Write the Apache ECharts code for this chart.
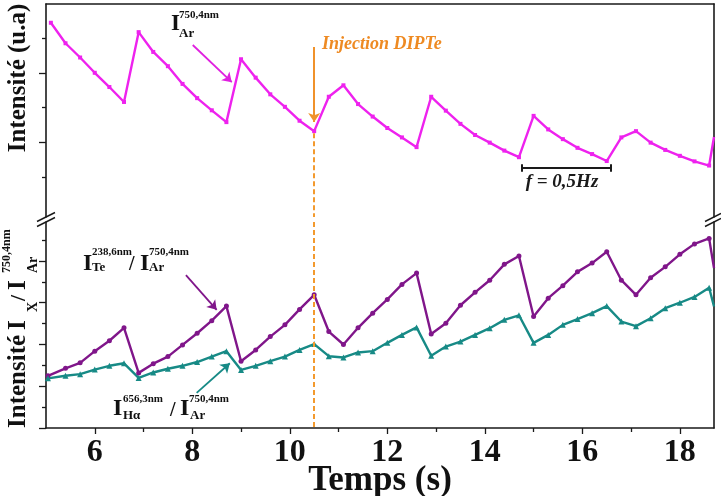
<!DOCTYPE html>
<html>
<head>
<meta charset="utf-8">
<script src="https://cdn.jsdelivr.net/npm/echarts@6/dist/echarts.min.js"></script>
<style>html,body{margin:0;padding:0;background:#fff;}#c{width:721px;height:496px;}</style>
</head>
<body>
<div id="c"></div>
<script>
// ---- data ----
const timeTop = [5.1,5.4,5.7,6.0,6.3,6.6,6.9,7.2,7.5,7.8,8.1,8.4,8.7,9.0,9.3,9.6,9.9,10.2,10.5,10.8,11.1,11.4,11.7,12.0,12.3,12.6,12.9,13.2,13.5,13.8,14.1,14.4,14.7,15.0,15.3,15.6,15.9,16.2,16.5,16.8,17.1,17.4,17.7,18.0,18.3,18.6,18.7];
const intensityAr = [5.44,4.85,4.44,4.00,3.59,3.16,5.17,4.60,4.19,3.68,3.27,2.92,2.58,4.39,3.86,3.38,3.02,2.62,2.32,3.31,3.64,3.10,2.74,2.41,2.14,1.86,3.31,2.91,2.53,2.21,1.99,1.76,1.57,2.76,2.37,2.09,1.84,1.66,1.46,2.14,2.32,1.99,1.78,1.61,1.45,1.33,2.15];
const timeRatio = [5.04,5.4,5.7,6.0,6.3,6.6,6.9,7.2,7.5,7.8,8.1,8.4,8.7,9.0,9.3,9.6,9.9,10.2,10.5,10.8,11.1,11.4,11.7,12.0,12.3,12.6,12.9,13.2,13.5,13.8,14.1,14.4,14.7,15.0,15.3,15.6,15.9,16.2,16.5,16.8,17.1,17.4,17.7,18.0,18.3,18.6,18.7];
const ratioTe = [1.25,1.43,1.56,1.84,2.09,2.40,1.32,1.54,1.71,1.99,2.27,2.57,2.92,1.60,1.87,2.19,2.47,2.84,3.19,2.31,2.00,2.40,2.75,3.08,3.44,3.71,2.25,2.51,2.94,3.25,3.54,3.92,4.12,2.67,3.11,3.41,3.74,3.95,4.22,3.54,3.19,3.60,3.86,4.16,4.41,4.54,3.83];
const ratioH = [1.19,1.25,1.29,1.40,1.49,1.55,1.20,1.33,1.42,1.49,1.58,1.71,1.84,1.39,1.49,1.60,1.71,1.87,2.01,1.72,1.69,1.81,1.84,2.04,2.23,2.41,1.73,1.95,2.07,2.23,2.39,2.59,2.70,2.04,2.23,2.47,2.61,2.75,2.92,2.55,2.44,2.63,2.87,3.00,3.14,3.36,2.91];
const xTickLabels = [6,8,10,12,14,16,18];
const xMinorTicks = [7,9,11,13,15,17];
const topMajorTicks = [2,4];
const topMinorTicks = [1,3,5];
const bottomMajorTicks = [0,1,2,3,4];
const bottomMinorTicks = [0.5,1.5,2.5,3.5,4.5];
const injectionTime = 10.5;
const freqStart = 14.75, freqEnd = 16.58, freqLevel = 1.26;

// ---- helpers ----
const AX = '#1a1a1a';
const SERIF = '"Liberation Serif", "Times New Roman", serif';
function pts(xs, ys) {
  return xs.map((x, i) => i === xs.length - 1 ? {value: [x, ys[i]], symbol: 'none'} : [x, ys[i]]);
}
function yAx(grid, min, max, pos, ticks, len, line) {
  return {
    type: 'value', gridIndex: grid, min: min, max: max, position: pos,
    axisLine: {show: line, onZero: false, lineStyle: {color: AX, width: 1.6}},
    axisTick: {show: ticks.length > 0, customValues: ticks, length: len, inside: false, lineStyle: {color: AX, width: 1.3}},
    axisLabel: {show: false}, splitLine: {show: false}
  };
}
function txt(x, y, s, font, fill, align) {
  return {type: 'text', x: x, y: y, silent: true,
    style: {text: s, font: font, fill: fill || '#111', textAlign: align || 'left', textVerticalAlign: 'middle'}};
}
function seg(a, b, color, width, endSym, dash) {
  return [
    {coord: a, symbol: 'none', lineStyle: {color: color, width: width, type: dash || 'solid'}},
    {coord: b, symbol: endSym || 'none'}
  ];
}
const B = (n) => 'bold ' + n + 'px ' + SERIF;
const topMin = -0.151, topMax = 5.98, botMin = 0, botMax = 4.934;

const chart = echarts.init(document.getElementById('c'), null, {renderer: 'canvas'});
chart.setOption({
  animation: false,
  backgroundColor: '#fff',
  grid: [
    {left: 46, right: 7, top: 4, height: 213, containLabel: false, outerBoundsMode: 'none'},
    {left: 46, right: 7, top: 222, bottom: 68, containLabel: false, outerBoundsMode: 'none'}
  ],
  xAxis: [
    {type: 'value', gridIndex: 0, min: 5, max: 18.7, position: 'top',
     axisLine: {show: true, onZero: false, lineStyle: {color: AX, width: 1.6}}, axisTick: {show: false}, axisLabel: {show: false}, splitLine: {show: false}},
    {type: 'value', gridIndex: 1, min: 5, max: 18.7, position: 'bottom',
     axisLine: {show: true, onZero: false, lineStyle: {color: AX, width: 1.6}},
     axisTick: {show: true, customValues: xTickLabels, length: 6, inside: false, lineStyle: {color: AX, width: 1.3}},
     axisLabel: {show: true, customValues: xTickLabels, margin: 9, fontSize: 32, fontWeight: 'bold', fontFamily: SERIF, color: '#111'},
     splitLine: {show: false}},
    {type: 'value', gridIndex: 1, min: 5, max: 18.7, position: 'bottom',
     axisLine: {show: false, onZero: false}, axisTick: {show: true, customValues: xMinorTicks, length: 4, inside: false, lineStyle: {color: AX, width: 1.3}},
     axisLabel: {show: false}, splitLine: {show: false}}
  ],
  yAxis: [
    yAx(0, topMin, topMax, 'left', topMajorTicks, 7, true),
    yAx(0, topMin, topMax, 'left', topMinorTicks, 4, false),
    yAx(0, topMin, topMax, 'right', [], 0, true),
    yAx(1, botMin, botMax, 'left', bottomMajorTicks, 7, true),
    yAx(1, botMin, botMax, 'left', bottomMinorTicks, 4, false),
    yAx(1, botMin, botMax, 'right', [], 0, true)
  ],
  series: [
    {type: 'line', xAxisIndex: 0, yAxisIndex: 0, data: pts(timeTop, intensityAr),
     symbol: 'rect', symbolSize: 4, color: '#ee22ee', lineStyle: {width: 2.4, color: '#ee22ee'}, silent: true, clip: true,
     markLine: {silent: true, animation: false, label: {show: false}, symbolSize: 9,
       data: [
         seg([8.01, 4.80], [8.81, 3.73], '#e020e0', 1.8, 'arrow'),
         seg([injectionTime, 4.74], [injectionTime, 2.58], '#f0922b', 2, 'arrow'),
         seg([injectionTime, 2.26], [injectionTime, topMin], '#f39a2e', 2, 'none', [5, 3]),
         seg([freqStart, freqLevel], [freqEnd, freqLevel], '#1a1a1a', 2),
         seg([freqStart, freqLevel - 0.11], [freqStart, freqLevel + 0.11], '#1a1a1a', 2),
         seg([freqEnd, freqLevel - 0.11], [freqEnd, freqLevel + 0.11], '#1a1a1a', 2)
       ]}},
    {type: 'line', xAxisIndex: 1, yAxisIndex: 3, data: pts(timeRatio, ratioTe),
     symbol: 'circle', symbolSize: 5, color: '#80168a', lineStyle: {width: 2.4, color: '#80168a'}, silent: true, clip: true,
     markLine: {silent: true, animation: false, label: {show: false}, symbolSize: 9,
       data: [
         seg([7.87, 3.66], [8.50, 2.83], '#80168a', 1.8, 'arrow'),
         seg([injectionTime, botMax], [injectionTime, botMin], '#f39a2e', 2, 'none', [5, 3])
       ]}},
    {type: 'line', xAxisIndex: 1, yAxisIndex: 3, data: pts(timeRatio, ratioH),
     symbol: 'triangle', symbolSize: 6, color: '#178a86', lineStyle: {width: 2.4, color: '#178a86'}, silent: true, clip: true,
     markLine: {silent: true, animation: false, label: {show: false}, symbolSize: 9,
       data: [
         seg([8.09, 0.84], [8.77, 1.55], '#178a86', 1.8, 'arrow')
       ]}}
  ],
  graphic: [
    // axis breaks
    {type: 'polygon', silent: true, shape: {points: [[37, 221.5], [55, 212.5], [55, 217.5], [37, 226.5]]}, style: {fill: '#fff'}},
    {type: 'line', silent: true, shape: {x1: 37, y1: 221.5, x2: 55, y2: 212.5}, style: {stroke: AX, lineWidth: 1.4}},
    {type: 'line', silent: true, shape: {x1: 37, y1: 226.5, x2: 55, y2: 217.5}, style: {stroke: AX, lineWidth: 1.4}},
    {type: 'polygon', silent: true, shape: {points: [[705, 221.5], [721, 213.5], [721, 218.5], [705, 226.5]]}, style: {fill: '#fff'}},
    {type: 'line', silent: true, shape: {x1: 705, y1: 221.5, x2: 721, y2: 213.5}, style: {stroke: AX, lineWidth: 1.4}},
    {type: 'line', silent: true, shape: {x1: 705, y1: 226.5, x2: 721, y2: 218.5}, style: {stroke: AX, lineWidth: 1.4}},
    // axis names
    txt(380, 481, 'Temps (s)', B(35), '#111', 'center'),
    {type: 'group', x: 19, y: 78, rotation: Math.PI / 2, children: [
      txt(0, 0, 'Intensité (u.a)', B(25), '#111', 'center')
    ]},
    {type: 'group', x: 19, y: 428, rotation: Math.PI / 2, children: [
      txt(0, 0, 'Intensité', B(25)),
      txt(98, 0, 'I', B(25)),
      txt(116, 14, 'X', B(14)),
      txt(127, 0, '/', B(22)),
      txt(138, 0, 'I', B(25)),
      txt(155, 14, 'Ar', B(14)),
      txt(155, -12, '750,4nm', B(12))
    ]},
    // annotations
    txt(171, 24.5, 'I', B(23)),
    txt(179, 15.5, '750,4nm', B(11)),
    txt(179, 34, 'Ar', B(13)),

    txt(83, 263.5, 'I', B(24)),
    txt(92, 252, '238,6nm', B(11)),
    txt(92, 268, 'Te', B(13)),
    txt(129, 265, '/', B(20)),
    txt(140, 263.5, 'I', B(24)),
    txt(149, 252, '750,4nm', B(11)),
    txt(149, 268, 'Ar', B(13)),

    txt(113, 409, 'I', B(24)),
    txt(123, 399, '656,3nm', B(11)),
    txt(123, 416, 'Hα', B(13)),
    txt(170, 411, '/', B(20)),
    txt(180, 409, 'I', B(24)),
    txt(189, 399, '750,4nm', B(11)),
    txt(190, 416, 'Ar', B(13)),

    txt(322, 44.5, 'Injection DIPTe', 'italic bold 18px ' + SERIF, '#ee8a22'),
    txt(562, 182, 'f = 0,5Hz', 'italic bold 19px ' + SERIF, '#1a1a1a', 'center')
  ]
});
</script>
</body>
</html>
